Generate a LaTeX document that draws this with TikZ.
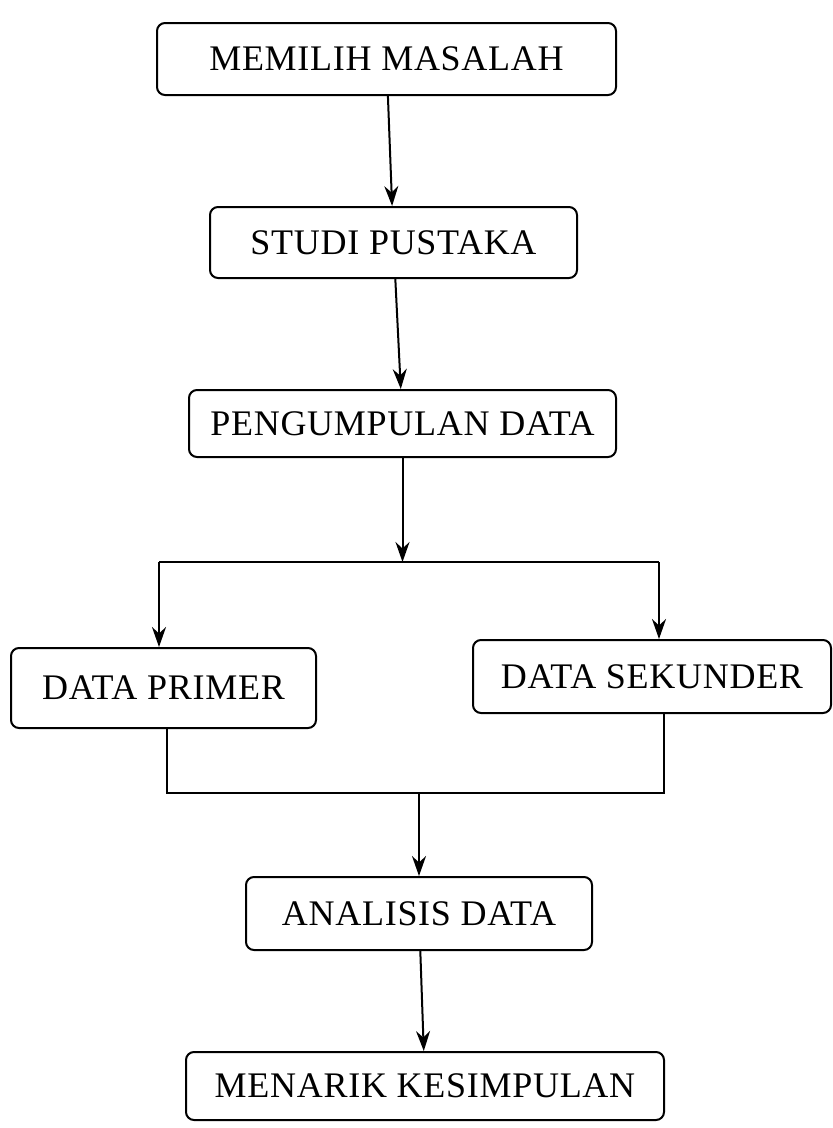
\documentclass[tikz,border=0pt]{standalone}
\usepackage{fontspec}
\setmainfont{Liberation Serif}[LetterSpace=2]
\usetikzlibrary{arrows.meta}
\begin{document}
\begin{tikzpicture}[x=1pt,y=-1pt,
  kotak/.style={draw, line width=2pt, rounded corners=8pt, inner sep=0pt, font=\fontsize{36}{40}\selectfont},
  panah/.style={line width=2pt, -{Stealth[length=20pt,width=14pt]}},
  garis/.style={line width=2pt}]
  \useasboundingbox (0,0) rectangle (833,1128);
  \node[kotak, minimum width=459pt, minimum height=72pt] (masalah) at (386.5,59) {MEMILIH MASALAH};
  \node[kotak, minimum width=367pt, minimum height=71pt] (pustaka) at (393.5,242.5) {STUDI PUSTAKA};
  \node[kotak, minimum width=427pt, minimum height=67pt] (kumpul) at (402.5,423.5) {PENGUMPULAN DATA};
  \node[kotak, minimum width=305pt, minimum height=80pt] (primer) at (163.5,688) {DATA PRIMER};
  \node[kotak, minimum width=358pt, minimum height=73pt] (sekunder) at (652,676.5) {DATA SEKUNDER};
  \node[kotak, minimum width=346pt, minimum height=73pt] (analisis) at (419,913.5) {ANALISIS DATA};
  \node[kotak, minimum width=478pt, minimum height=68pt] (simpulan) at (425,1086) {MENARIK KESIMPULAN};
  % percabangan data
  \coordinate (kiri) at (159,562);
  \coordinate (kanan) at (659,562);
  \coordinate (gkiri) at (167,793);
  \coordinate (gkanan) at (664,793);
  \draw[panah] (masalah) -- (pustaka);
  \draw[panah] (pustaka) -- (kumpul);
  \draw[panah] (kumpul.south) -- (kumpul.south |- kiri);
  \draw[garis] (kiri) -- (kanan);
  \draw[panah] (kiri) -- (kiri |- primer.north);
  \draw[panah] (kanan) -- (kanan |- sekunder.north);
  % penggabungan
  \draw[garis] (gkiri |- primer.south) -- (gkiri) -- (gkanan) -- (gkanan |- sekunder.south);
  \draw[panah] (analisis.north |- gkiri) -- (analisis.north);
  \draw[panah] (analisis) -- (simpulan);
\end{tikzpicture}
\end{document}
